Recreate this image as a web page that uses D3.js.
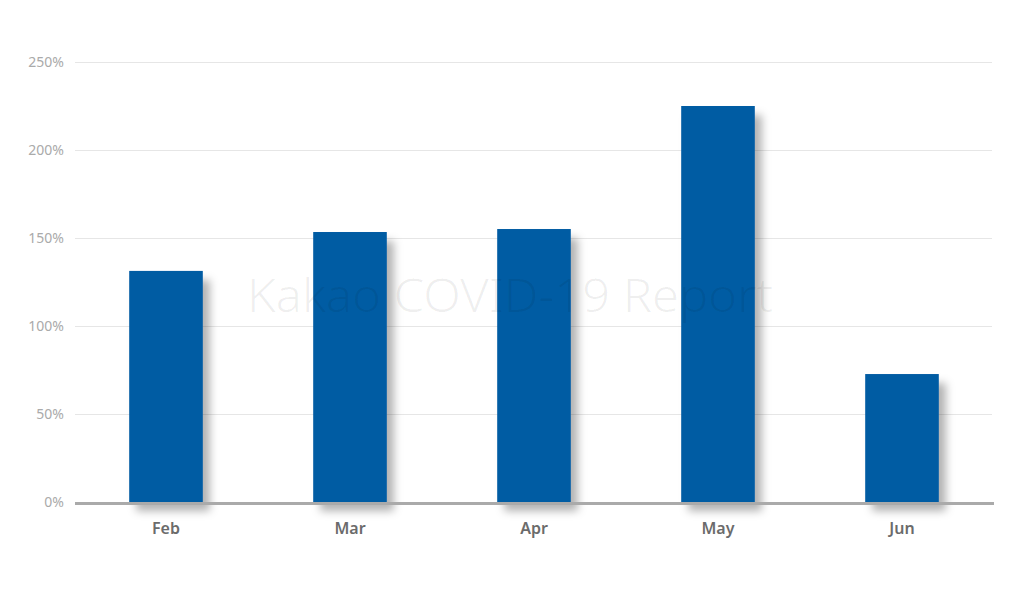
<!DOCTYPE html>
<html><head><meta charset="utf-8">
<script src="https://cdn.jsdelivr.net/npm/d3@7"></script>
<style>body{margin:0;background:#fff}svg{display:block}</style>
</head><body>
<svg id="c" width="1024" height="596"></svg>
<script>
const categories = ["Feb","Mar","Apr","May","Jun"];
const values = [131.3, 153.4, 155.1, 225.0, 72.7];
const yTicks = [0,50,100,150,200,250];
const watermark = "Kakao COVID-19 Report";

(function(){
const svg = d3.select("#c");
const pLeft = 74, pRight = 994, pTop = 62, pBottom = 502;
const x = d3.scaleBand().domain(categories).range([pLeft,pRight]).paddingInner(0.6).paddingOuter(0.3);
const y = d3.scaleLinear().domain([0,250]).range([pBottom,pTop]);

const defs = svg.append("defs");
const f = defs.append("filter").attr("id","sh").attr("x","-20%").attr("y","-20%").attr("width","160%").attr("height","140%");
f.append("feGaussianBlur").attr("in","SourceAlpha").attr("stdDeviation",4).attr("result","b");
f.append("feOffset").attr("in","b").attr("dx",7).attr("dy",9).attr("result","o");
f.append("feFlood").attr("flood-color","#000").attr("flood-opacity",0.3);
f.append("feComposite").attr("in2","o").attr("operator","in").attr("result","s");
const m = f.append("feMerge"); m.append("feMergeNode").attr("in","s"); m.append("feMergeNode").attr("in","SourceGraphic");

const yAxis = d3.axisLeft(y).tickValues(yTicks).tickSize(-(992-75)).tickFormat(d=>d+"%").tickPadding(11);
const ga = svg.append("g").attr("transform",`translate(75,0)`).call(yAxis);
ga.select(".domain").remove();
ga.selectAll(".tick line").attr("stroke","#e6e6e6").attr("stroke-width",1);
ga.selectAll(".tick text").attr("fill","#aaa").attr("font-family","Noto Sans, sans-serif").attr("font-size",14);

svg.append("g").selectAll("rect").data(values).join("rect")
  .attr("x",(d,i)=>x(categories[i])).attr("width",x.bandwidth())
  .attr("y",d=>y(d)).attr("height",d=>pBottom-y(d))
  .attr("fill","#005ba3").attr("filter","url(#sh)");

svg.append("text").attr("x",510).attr("y",312).attr("text-anchor","middle")
  .attr("font-family","Noto Sans, sans-serif").attr("font-weight",300).attr("font-size",46)
  .attr("fill","#000").attr("fill-opacity",0.065).attr("textLength",526).attr("lengthAdjust","spacingAndGlyphs").text(watermark);

const xa = svg.append("g").attr("transform",`translate(0,${pBottom})`).call(d3.axisBottom(x).tickSize(0).tickPadding(21));
xa.select(".domain").remove();
svg.append("line").attr("x1",75).attr("x2",994).attr("y1",pBottom+1.5).attr("y2",pBottom+1.5).attr("stroke","#aaa").attr("stroke-width",3);
xa.selectAll(".tick text").attr("fill","#6b6b6b").attr("font-family","Noto Sans, sans-serif").attr("font-weight",600).attr("font-size",16);
})();
</script>
</body></html>
